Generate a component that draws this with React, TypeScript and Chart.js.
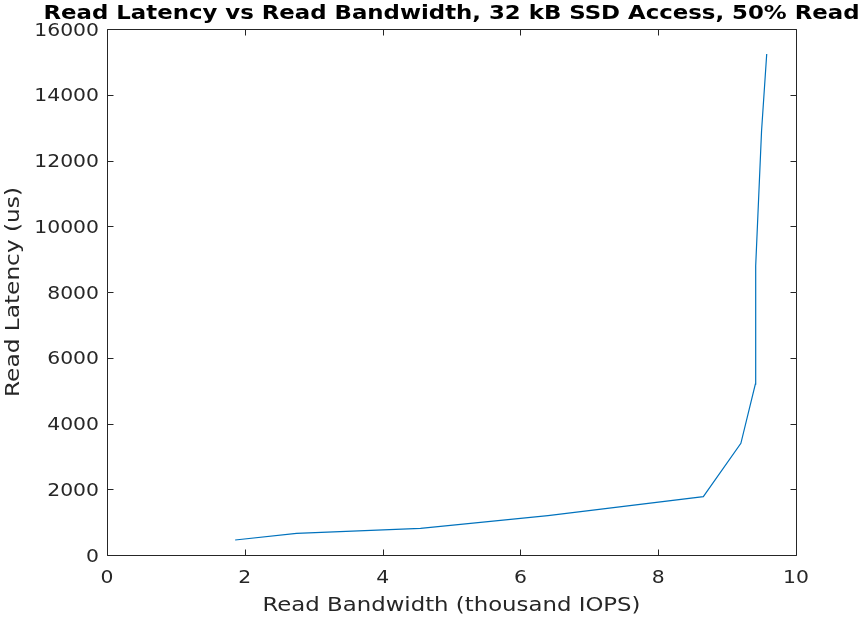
import React, { useEffect, useRef } from "react";
import { Chart, registerables } from "chart.js";

Chart.register(...registerables);

const bandwidthK = [1.86, 2.75, 4.55, 6.4, 8.655, 9.2, 9.41, 9.415, 9.5, 9.575];
const latencyUs = [456, 660, 810, 1200, 1774, 3397, 5200, 8800, 12900, 15240];
const xTicks = [0, 2, 4, 6, 8, 10];
const yTicks = [0, 2000, 4000, 6000, 8000, 10000, 12000, 14000, 16000];

const titleText = "Read Latency vs Read Bandwidth, 32 kB SSD Access, 50% Read";
const xLabel = "Read Bandwidth (thousand IOPS)";
const yLabel = "Read Latency (us)";

const AX = "#262626";
const FONT = "'DejaVu Sans', sans-serif";

function stretchedText(
  ctx: CanvasRenderingContext2D,
  text: string,
  x: number,
  y: number,
  sx: number,
  align: CanvasTextAlign,
  baseline: CanvasTextBaseline
) {
  ctx.save();
  ctx.translate(x, y);
  ctx.scale(sx, 1);
  ctx.textAlign = align;
  ctx.textBaseline = baseline;
  ctx.fillText(text, 0, 0);
  ctx.restore();
}

const framePlugin = {
  id: "matlabFrame",
  afterDraw(chart: any) {
    const { ctx, chartArea: a, scales } = chart;
    const L = Math.round(a.left) + 0.5;
    const R = Math.round(a.right) + 0.5;
    const T = Math.round(a.top) + 0.5;
    const B = Math.round(a.bottom) + 0.5;
    const cx = (a.left + a.right) / 2;
    const cy = (a.top + a.bottom) / 2;
    ctx.save();
    ctx.strokeStyle = AX;
    ctx.lineWidth = 1;
    ctx.beginPath();
    ctx.rect(L, T, R - L, B - T);
    const tl = 6;
    xTicks.forEach((v) => {
      const px = Math.round(scales.x.getPixelForValue(v)) + 0.5;
      ctx.moveTo(px, B);
      ctx.lineTo(px, B - tl);
      ctx.moveTo(px, T);
      ctx.lineTo(px, T + tl);
    });
    yTicks.forEach((v) => {
      const py = Math.round(scales.y.getPixelForValue(v)) + 0.5;
      ctx.moveTo(L, py);
      ctx.lineTo(L + tl, py);
      ctx.moveTo(R, py);
      ctx.lineTo(R - tl, py);
    });
    ctx.stroke();

    // tick labels
    ctx.fillStyle = AX;
    ctx.font = `18.5px ${FONT}`;
    const tsx = 1.1;
    xTicks.forEach((v) => {
      const px = scales.x.getPixelForValue(v);
      stretchedText(ctx, String(v), px, a.bottom + 28, tsx, "center", "alphabetic");
    });
    yTicks.forEach((v) => {
      const py = scales.y.getPixelForValue(v);
      stretchedText(ctx, String(v), a.left - 8, py + 6.7, tsx, "right", "alphabetic");
    });

    // axis labels
    ctx.font = `20px ${FONT}`;
    const xw = ctx.measureText(xLabel).width;
    stretchedText(ctx, xLabel, cx, 611, 378 / xw, "center", "alphabetic");
    const yw = ctx.measureText(yLabel).width;
    ctx.save();
    ctx.translate(19, cy);
    ctx.rotate(-Math.PI / 2);
    stretchedText(ctx, yLabel, 0, 0, 210 / yw, "center", "alphabetic");
    ctx.restore();

    // title
    ctx.fillStyle = "#000000";
    ctx.font = `bold 19px ${FONT}`;
    const tw = ctx.measureText(titleText).width;
    stretchedText(ctx, titleText, cx, 19, 816 / tw, "center", "alphabetic");
    ctx.restore();
  },
};

export default function App() {
  const ref = useRef<HTMLCanvasElement | null>(null);
  useEffect(() => {
    if (!ref.current) return;
    const chart = new Chart(ref.current, {
      type: "scatter",
      data: {
        datasets: [
          {
            data: bandwidthK.map((x, i) => ({ x, y: latencyUs[i] })),
            showLine: true,
            borderColor: "#0072BD",
            borderWidth: 1.2,
            pointRadius: 0,
            fill: false,
            tension: 0,
          },
        ],
      },
      options: {
        animation: false,
        responsive: false,
        maintainAspectRatio: false,
        layout: { padding: { top: 29, right: 67, left: 0, bottom: 0 } },
        plugins: {
          legend: { display: false },
          tooltip: { enabled: false },
          title: { display: false },
        },
        scales: {
          x: {
            type: "linear",
            min: 0,
            max: 10,
            afterFit: (s: any) => {
              s.height = 62;
            },
            afterBuildTicks: (s: any) => {
              s.ticks = xTicks.map((v) => ({ value: v }));
            },
            grid: { display: false, drawTicks: false },
            border: { display: false },
            ticks: { display: false },
            title: { display: false, text: xLabel },
          },
          y: {
            type: "linear",
            min: 0,
            max: 16000,
            afterFit: (s: any) => {
              s.width = 107;
            },
            afterBuildTicks: (s: any) => {
              s.ticks = yTicks.map((v) => ({ value: v }));
            },
            grid: { display: false, drawTicks: false },
            border: { display: false },
            ticks: { display: false },
            title: { display: false, text: yLabel },
          },
        },
      },
      plugins: [framePlugin],
    });
    return () => chart.destroy();
  }, []);
  return (
    <div style={{ position: "absolute", left: 0, top: 0, width: 863, height: 617, background: "#ffffff" }}>
      <canvas ref={ref} width={863} height={617} style={{ display: "block", width: 863, height: 617 }} />
    </div>
  );
}
